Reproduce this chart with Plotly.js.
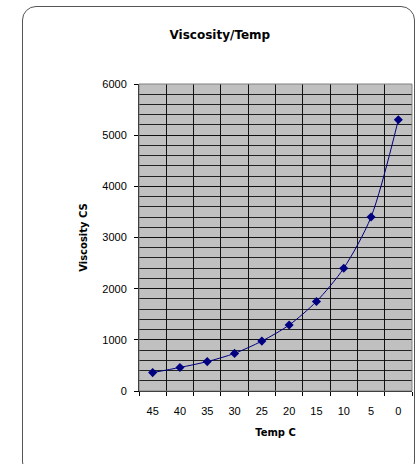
<!DOCTYPE html>
<html>
<head>
<meta charset="utf-8">
<script src="https://cdn.plot.ly/plotly-3.0.1.min.js"></script>
<style>
  html, body { margin: 0; padding: 0; background: #fff; }
  #wrap { position: relative; width: 418px; height: 464px; overflow: hidden; }
  #frame { position: absolute; left: 22px; top: 6px; width: 393px; height: 470px;
           border: 1px solid #555; border-radius: 14px; box-sizing: border-box; }
  #chart { position: absolute; left: 0; top: 0; width: 418px; height: 464px; }
</style>
</head>
<body>
<div id="wrap">
  <div id="frame"></div>
  <div id="chart"></div>
</div>
<script>
const temps = ["45", "40", "35", "30", "25", "20", "15", "10", "5", "0"];
const viscosity = [360, 460, 575, 735, 975, 1290, 1750, 2400, 3400, 5300];
const yTicks = [0, 1000, 2000, 3000, 4000, 5000, 6000];

const trace = {
  x: temps,
  y: viscosity,
  type: 'scatter',
  mode: 'lines+markers',
  line: { color: '#000080', width: 1, shape: 'spline', smoothing: 0.8 },
  marker: { symbol: 'diamond', size: 7, color: '#000080' },
  hoverinfo: 'none'
};

const layout = {
  width: 418,
  height: 464,
  margin: { l: 139, r: 6, t: 84, b: 73 },
  paper_bgcolor: 'rgba(0,0,0,0)',
  plot_bgcolor: '#c0c0c0',
  showlegend: false,
  font: { family: 'Liberation Sans, Arial, sans-serif', size: 11, color: '#000' },
  title: {
    text: 'Viscosity/Temp',
    font: { family: 'DejaVu Sans, sans-serif', size: 12, color: '#000', weight: 'bold' },
    xref: 'container', x: 0.526, xanchor: 'center',
    yref: 'container', y: 0.925, yanchor: 'middle'
  },
  xaxis: {
    type: 'category',
    categoryorder: 'array',
    categoryarray: temps,
    range: [-0.5, temps.length - 0.5],
    tickson: 'boundaries',
    ticks: 'outside', ticklen: 4, tickcolor: '#000',
    showgrid: true, gridcolor: '#111', gridwidth: 1,
    showline: true, linecolor: '#000', linewidth: 1,
    zeroline: false,
    tickfont: { size: 11, color: '#000' },
    ticklabelstandoff: 10,
    title: { text: 'Temp C', font: { family: 'DejaVu Sans, sans-serif', size: 10, weight: 'bold', color: '#000' }, standoff: 12 }
  },
  yaxis: {
    range: [0, 6000],
    tickvals: yTicks,
    ticktext: yTicks.map(String),
    ticks: 'outside', ticklen: 4, tickcolor: '#000',
    showgrid: true, gridcolor: '#111', gridwidth: 1,
    minor: { dtick: 200, showgrid: true, gridcolor: '#222', gridwidth: 1, ticks: '' },
    showline: true, linecolor: '#000', linewidth: 1,
    zeroline: false,
    tickfont: { size: 11, color: '#000' },
    ticklabelstandoff: 5,
    title: { text: 'Viscosity CS', font: { family: 'DejaVu Sans, sans-serif', size: 10, weight: 'bold', color: '#000' }, standoff: 12 }
  },
  shapes: [
    { type: 'rect', xref: 'paper', yref: 'paper', x0: 0, x1: 1, y0: 0, y1: 1,
      line: { color: '#808080', width: 1 }, layer: 'above' }
  ]
};

Plotly.newPlot('chart', [trace], layout, { staticPlot: true, displayModeBar: false });
</script>
</body>
</html>
